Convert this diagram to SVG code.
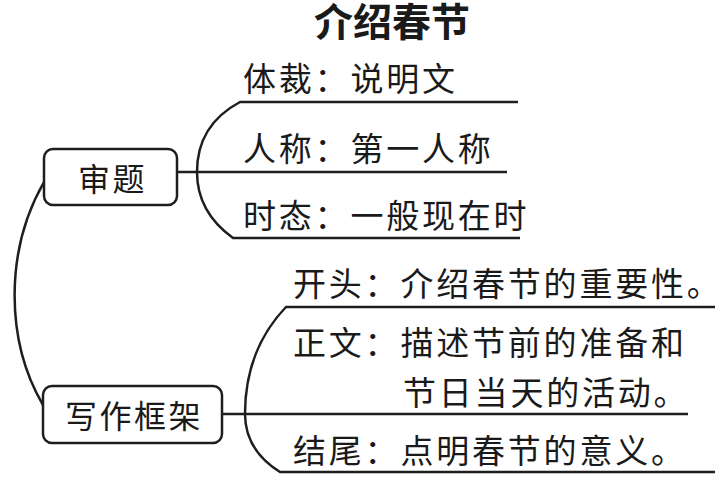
<svg xmlns="http://www.w3.org/2000/svg" width="722" height="483" viewBox="0 0 722 483">
<style>
.bg{fill:#ffffff}
.box{fill:#ffffff;stroke:#1e1e1e;stroke-width:2.5}
.ln{fill:none;stroke:#1e1e1e;stroke-width:2.5}
.t{font-family:"Noto Sans CJK SC","Noto Sans CJK JP",sans-serif;font-size:33px;fill:#1a1a1a;letter-spacing:2.8px}
.bt{font-family:"Noto Sans CJK SC","Noto Sans CJK JP",sans-serif;font-size:32px;fill:#1a1a1a;letter-spacing:2.5px}
.title{font-family:"Noto Sans CJK SC","Noto Sans CJK JP",sans-serif;font-size:39px;font-weight:bold;fill:#1a1a1a;text-anchor:middle}
</style>
<rect class="bg" x="0" y="0" width="722" height="483"/>
<text class="title" x="392" y="36">介绍春节</text>
<g id="connectors">
  <path class="ln" d="M44,182 C5,250 5,340 43,405"/>
  <path class="ln" d="M177,172 H507"/>
  <path class="ln" d="M518,102 H240 Q197,125 197,172 Q197,212 233,238 H520"/>
  <path class="ln" d="M222,414 H688"/>
  <path class="ln" d="M715,307 H286 Q245,350 245,414 Q245,450 280,472 H715"/>
</g>
<g id="node-shenti">
  <rect class="box" x="44" y="149" width="133" height="56" rx="9"/>
  <text class="bt" x="78" y="191">审题</text>
</g>
<g id="node-xiezuo">
  <rect class="box" x="43" y="386" width="179" height="57" rx="9"/>
  <text class="bt" x="65" y="428">写作框架</text>
</g>
<g id="node-ticai">
  <text class="t" x="243" y="91">体裁：说明文</text>
</g>
<g id="node-rencheng">
  <text class="t" x="243" y="161">人称：第一人称</text>
</g>
<g id="node-shitai">
  <text class="t" x="243" y="228">时态：一般现在时</text>
</g>
<g id="node-kaitou">
  <text class="t" x="293" y="296">开头：介绍春节的重要性。</text>
</g>
<g id="node-zhengwen">
  <text class="t" x="293" y="355">正文：描述节前的准备和</text>
  <text class="t" x="403" y="405">节日当天的活动。</text>
</g>
<g id="node-jiewei">
  <text class="t" x="293" y="463">结尾：点明春节的意义。</text>
</g>
</svg>
